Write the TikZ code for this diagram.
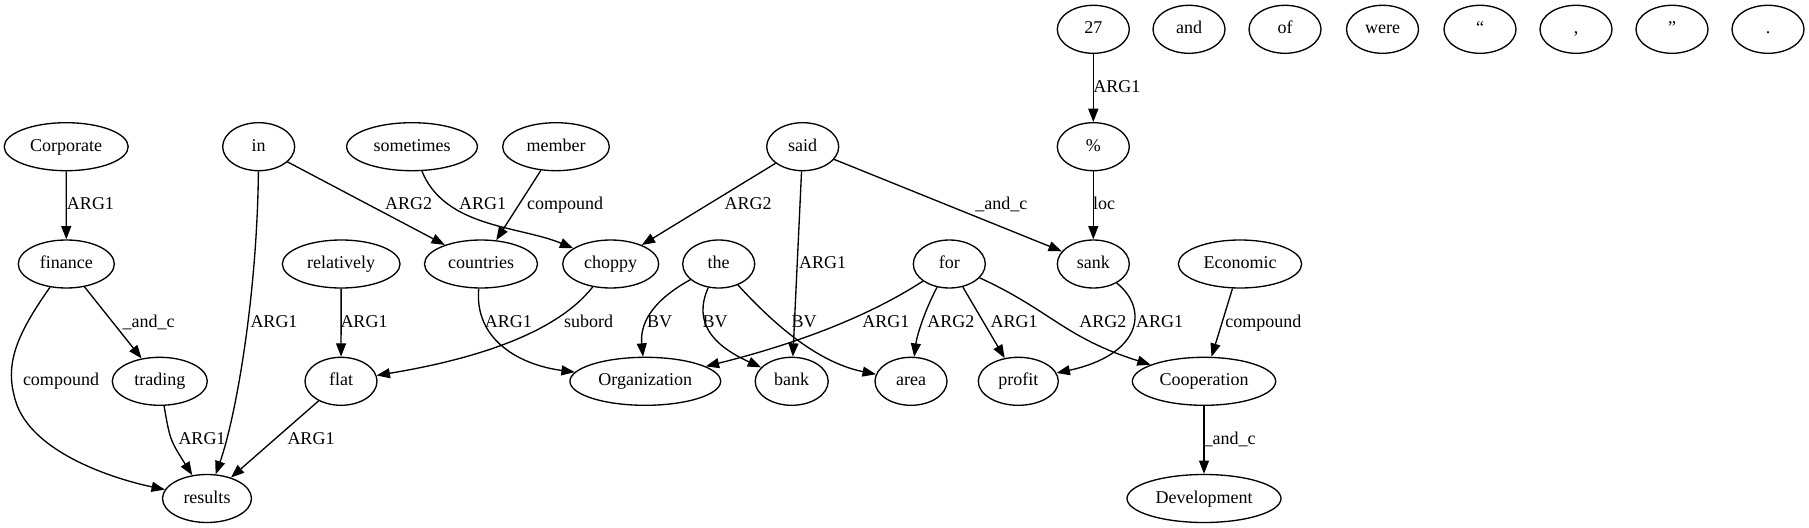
\documentclass[tikz,border=0pt]{standalone}
\usepackage{fontspec}
\setmainfont{Liberation Serif}
\usetikzlibrary{shapes.geometric,arrows.meta}
\begin{document}
\begin{tikzpicture}[x=0.75pt,y=-0.75pt,
  nd/.style={draw, ellipse, line width=1pt, inner sep=0pt, minimum height=36pt,
    font=\fontsize{13.5}{16}\selectfont, text height=9.5pt, text depth=2.5pt},
  wd/.style={minimum width=#1*0.75pt},
  lb/.style={inner sep=0pt, font=\fontsize{13.5}{16}\selectfont, text height=9.5pt, text depth=2.5pt},
  ed/.style={-{Triangle[length=10pt,width=7.5pt]}, line width=1pt}]
\useasboundingbox (0,0) rectangle (1809,528);
% row 1
\node[nd,wd=72] (n27) at (1093.3,29.3) {27};
\node[nd,wd=72] (nand) at (1189,29.3) {and};
\node[nd,wd=72] (nof) at (1285,29.3) {of};
\node[nd,wd=72] (nwere) at (1382.5,29.3) {were};
\node[nd,wd=72] (nlq) at (1480,29.3) {“};
\node[nd,wd=72] (ncomma) at (1576,29.3) {,};
\node[nd,wd=72] (nrq) at (1672,29.3) {”};
\node[nd,wd=72] (ndot) at (1768,29.3) {.};
% row 2
\node[nd,wd=124] (corporate) at (66.2,146.7) {Corporate};
\node[nd,wd=72] (in) at (258.7,146.7) {in};
\node[nd,wd=130.7] (sometimes) at (412,146.7) {sometimes};
\node[nd,wd=106.7] (member) at (556,146.7) {member};
\node[nd,wd=72] (said) at (802.7,146.7) {said};
\node[nd,wd=72] (pct) at (1093.3,146.7) {\%};
% row 3
\node[nd,wd=96] (finance) at (66.3,264) {finance};
\node[nd,wd=117.7] (relatively) at (341.2,264) {relatively};
\node[nd,wd=113] (countries) at (481,264) {countries};
\node[nd,wd=96] (choppy) at (610.7,264) {choppy};
\node[nd,wd=72] (the) at (718.7,264) {the};
\node[nd,wd=72] (for) at (949.3,264) {for};
\node[nd,wd=72] (sank) at (1093.3,264) {sank};
\node[nd,wd=123.3] (economic) at (1240,264) {Economic};
% row 4
\node[nd,wd=95] (trading) at (159.8,381.3) {trading};
\node[nd,wd=72] (flat) at (341,381.3) {flat};
\node[nd,wd=150.7] (organization) at (645.3,381.3) {Organization};
\node[nd,wd=73] (bank) at (791.7,381.3) {bank};
\node[nd,wd=72] (area) at (911,381.3) {area};
\node[nd,wd=80] (profit) at (1018.3,381.3) {profit};
\node[nd,wd=143.3] (cooperation) at (1204,381.3) {Cooperation};
% row 5
\node[nd,wd=89] (results) at (207,498.5) {results};
\node[nd,wd=154] (development) at (1204,498.5) {Development};
% edges
\draw[ed] (corporate) -- (finance);
\draw[ed] (finance) -- (trading);
\draw[ed] (finance) .. controls (20,330) and (5,360) .. (14,395) .. controls (25,450) and (110,478) .. (results);
\draw[ed] (trading) .. controls (170,440) .. (results);
\draw[ed] (in) .. controls (257,300) and (235,420) .. (results);
\draw[ed] (in) -- (countries);
\draw[ed] (relatively) -- (flat);
\draw[ed] (flat) -- (results);
\draw[ed] (sometimes) .. controls (445,228) and (520,226) .. (choppy);
\draw[ed] (member) -- (countries);
\draw[ed] (countries) .. controls (474,340) and (520,365) .. (organization);
\draw[ed] (choppy) .. controls (555,335) and (470,360) .. (flat);
\draw[ed] (said) -- (choppy);
\draw[ed] (said) -- (bank);
\draw[ed] (said) -- (sank);
\draw[ed] (the) .. controls (650,302) and (640,325) .. (organization);
\draw[ed] (the) .. controls (693,322) and (712,345) .. (bank);
\draw[ed] (the) .. controls (770,320) and (815,362) .. (area);
\draw[ed] (for) .. controls (860,322) and (780,348) .. (organization);
\draw[ed] (for) .. controls (925,310) and (917,335) .. (area);
\draw[ed] (for) -- (profit);
\draw[ed] (for) .. controls (1050,310) and (1065,338) .. (cooperation);
\draw[ed] (n27) -- (pct);
\draw[ed] (pct) -- (sank);
\draw[ed] (sank) .. controls (1150,310) and (1140,355) .. (profit);
\draw[ed] (economic) -- (cooperation);
\draw[ed] (cooperation) -- (development);
% labels
\node[lb] (l1) at (90.5,205) {ARG1};
\node[lb] (l2) at (148.7,322.7) {\_and\_c};
\node[lb] (l3) at (61,380.7) {compound};
\node[lb] (l4) at (202,440) {ARG1};
\node[lb] (l5) at (274,322.7) {ARG1};
\node[lb] (l6) at (408.7,205) {ARG2};
\node[lb] (l7) at (364,322.7) {ARG1};
\node[lb] (l8) at (311,440) {ARG1};
\node[lb] (l9) at (482.5,205) {ARG1};
\node[lb] (l10) at (565,205) {compound};
\node[lb] (l11) at (508.3,322.7) {ARG1};
\node[lb] (l12) at (588.5,322.7) {subord};
\node[lb] (l13) at (748,205) {ARG2};
\node[lb] (l14) at (822.5,264) {ARG1};
\node[lb] (l15) at (1001.3,205) {\_and\_c};
\node[lb] (l16) at (659.7,322.7) {BV};
\node[lb] (l17) at (715,322.7) {BV};
\node[lb] (l18) at (804,322.7) {BV};
\node[lb] (l19) at (885.8,322.7) {ARG1};
\node[lb] (l20) at (950.8,322.7) {ARG2};
\node[lb] (l21) at (1014,322.7) {ARG1};
\node[lb] (l22) at (1102.8,322.7) {ARG2};
\node[lb] (l23) at (1116.8,88.3) {ARG1};
\node[lb] (l24) at (1104,205) {loc};
\node[lb] (l25) at (1159.5,322.7) {ARG1};
\node[lb] (l26) at (1263.3,322.7) {compound};
\node[lb] (l27) at (1229.6,440) {\_and\_c};
\end{tikzpicture}
\end{document}
